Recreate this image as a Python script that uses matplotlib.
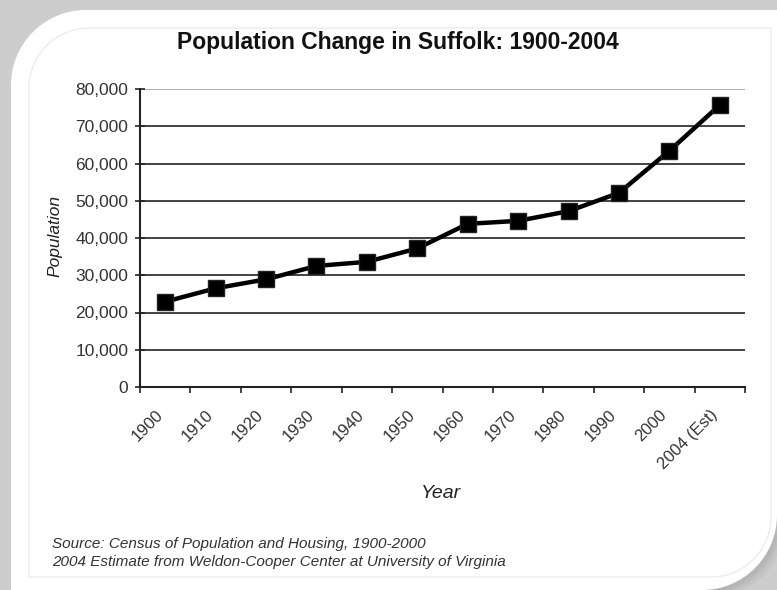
import numpy as np
import matplotlib
matplotlib.use("Agg")
import matplotlib.pyplot as plt
from matplotlib.path import Path
from matplotlib.patches import PathPatch
from matplotlib.ticker import FuncFormatter
from matplotlib.transforms import ScaledTranslation

# data
years = ["1900", "1910", "1920", "1930", "1940", "1950",
         "1960", "1970", "1980", "1990", "2000", "2004 (Est)"]
population = [22900, 26500, 28900, 32500, 33600, 37200,
              43800, 44600, 47200, 52100, 63400, 75700]
y_ticks = [0, 10000, 20000, 30000, 40000, 50000, 60000, 70000, 80000]

W, H = 777, 590

plt.rcParams["font.family"] = ["Liberation Sans", "DejaVu Sans"]


def panel_path(x0, y0, x1, y1, r):
    """Rect in pixels (y down) with rounded top-left and bottom-right corners."""
    k = 0.5523 * r
    pts = [
        (x0, y0 + r),
        (x0, y0 + r - k), (x0 + r - k, y0), (x0 + r, y0),
        (x1, y0),
        (x1, y1 - r),
        (x1, y1 - r + k), (x1 - r + k, y1), (x1 - r, y1),
        (x0, y1),
        (x0, y0 + r),
    ]
    codes = [Path.MOVETO,
             Path.CURVE4, Path.CURVE4, Path.CURVE4,
             Path.LINETO, Path.LINETO,
             Path.CURVE4, Path.CURVE4, Path.CURVE4,
             Path.LINETO, Path.CLOSEPOLY]
    pts = [(x / W, 1 - y / H) for x, y in pts]
    return Path(pts, codes)


fig = plt.figure(figsize=(W / 100, H / 100), dpi=100)
fig.patch.set_facecolor("#cdcdcd")

# soft shadow + white panel + faint inner frame
for off, a in [(8, 0.10), (5, 0.12), (3, 0.15)]:
    fig.patches.append(PathPatch(panel_path(11 + off, 10 + off, 777 + off, 590 + off, 75),
                                 transform=fig.transFigure, facecolor="#888888",
                                 edgecolor="none", alpha=a, zorder=0))
fig.patches.append(PathPatch(panel_path(11, 10, 777, 590, 75), transform=fig.transFigure,
                             facecolor="white", edgecolor="none", zorder=1))
fig.patches.append(PathPatch(panel_path(29, 28, 771, 577, 60), transform=fig.transFigure,
                             facecolor="none", edgecolor="#ececec", lw=1, zorder=2))

ax = fig.add_axes([140 / W, 1 - 387 / H, (745 - 140) / W, (387 - 89) / H])
ax.set_facecolor("none")
ax.set_zorder(5)

x = np.arange(len(years))
ax.plot(x, population, color="black", lw=3.2, marker="s", markersize=11.5,
        markerfacecolor="black", markeredgecolor="#222222", zorder=5, clip_on=False)

ax.set_xlim(-0.5, len(years) - 0.5)
ax.set_ylim(0, 80000)

# horizontal grid lines
ax.set_yticks(y_ticks)
ax.yaxis.set_major_formatter(FuncFormatter(lambda v, p: f"{int(v):,}"))
ax.grid(axis="y", color="#333333", lw=1.3)
gl = ax.get_ygridlines()
gl[-1].set_color("#aaaaaa")
ax.set_axisbelow(True)

# category boundaries as ticks, labels near the centres
ax.set_xticks(np.arange(-0.5, len(years), 1.0))
ax.set_xticklabels([])
lab_tr = ax.get_xaxis_transform() + ScaledTranslation(-10 / 100, -20 / 100, fig.dpi_scale_trans)
for xi, lab in zip(x, years):
    ax.text(xi, 0, lab, transform=lab_tr, rotation=45, ha="right", va="top",
            rotation_mode="anchor", fontsize=12, color="#333333")
ax.tick_params(axis="x", which="major", length=4.5, width=1.2, color="#222222")
ax.tick_params(axis="y", direction="inout", length=7, width=1.2, color="#222222",
               labelsize=12.5, labelcolor="#333333", pad=5)

for s in ["top", "right"]:
    ax.spines[s].set_visible(False)
for s in ["left", "bottom"]:
    ax.spines[s].set_linewidth(1.5)
    ax.spines[s].set_color("#222222")

fig.text(398 / W, 1 - 43 / H, "Population Change in Suffolk: 1900-2004",
         ha="center", va="center", fontsize=16.5, fontweight="bold", color="#111111")
fig.text(55 / W, 1 - 236 / H, "Population", rotation=90, ha="center", va="center",
         fontsize=12.5, style="italic", color="#222222")
fig.text(441 / W, 1 - 494 / H, "Year", ha="center", va="center",
         fontsize=14, style="italic", color="#222222")
fig.text(52 / W, 1 - 544 / H, "Source: Census of Population and Housing, 1900-2000",
         ha="left", va="center", fontsize=11, style="italic", color="#333333")
fig.text(52 / W, 1 - 562 / H, "2004 Estimate from Weldon-Cooper Center at University of Virginia",
         ha="left", va="center", fontsize=11, style="italic", color="#333333")

fig.savefig("out.png", dpi=100, facecolor=fig.get_facecolor())
